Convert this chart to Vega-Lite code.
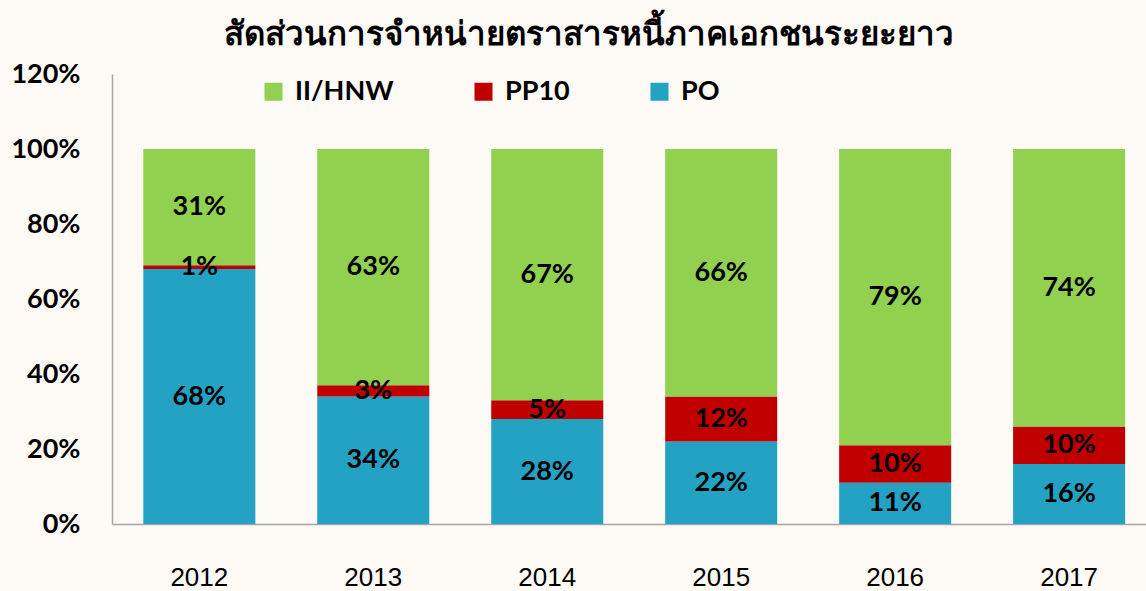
{
  "$schema": "https://vega.github.io/schema/vega-lite/v6.json",
  "autosize": "none",
  "width": 1034,
  "height": 450,
  "padding": {"left": 112, "top": 74, "right": 0, "bottom": 67},
  "background": "#fdf9f5",
  "title": {
    "text": "สัดส่วนการจำหน่ายตราสารหนี้ภาคเอกชนระยะยาว",
    "font": "Noto Sans",
    "fontSize": 33,
    "fontWeight": 600,
    "color": "#000000",
    "anchor": "middle",
    "dx": -40,
    "offset": 8
  },
  "data": {
    "values": [
      {"year": "2012", "type": "PO", "ord": 1, "value": 0.68},
      {"year": "2012", "type": "PP10", "ord": 2, "value": 0.01},
      {"year": "2012", "type": "II/HNW", "ord": 3, "value": 0.31},
      {"year": "2013", "type": "PO", "ord": 1, "value": 0.34},
      {"year": "2013", "type": "PP10", "ord": 2, "value": 0.03},
      {"year": "2013", "type": "II/HNW", "ord": 3, "value": 0.63},
      {"year": "2014", "type": "PO", "ord": 1, "value": 0.28},
      {"year": "2014", "type": "PP10", "ord": 2, "value": 0.05},
      {"year": "2014", "type": "II/HNW", "ord": 3, "value": 0.67},
      {"year": "2015", "type": "PO", "ord": 1, "value": 0.22},
      {"year": "2015", "type": "PP10", "ord": 2, "value": 0.12},
      {"year": "2015", "type": "II/HNW", "ord": 3, "value": 0.66},
      {"year": "2016", "type": "PO", "ord": 1, "value": 0.11},
      {"year": "2016", "type": "PP10", "ord": 2, "value": 0.10},
      {"year": "2016", "type": "II/HNW", "ord": 3, "value": 0.79},
      {"year": "2017", "type": "PO", "ord": 1, "value": 0.16},
      {"year": "2017", "type": "PP10", "ord": 2, "value": 0.10},
      {"year": "2017", "type": "II/HNW", "ord": 3, "value": 0.74}
    ]
  },
  "transform": [
    {"stack": "value", "groupby": ["year"], "sort": [{"field": "ord", "order": "ascending"}], "as": ["y0", "y1"]},
    {"calculate": "(datum.y0 + datum.y1) / 2", "as": "ymid"}
  ],
  "encoding": {
    "x": {
      "field": "year",
      "type": "nominal",
      "scale": {"paddingInner": 0.356, "paddingOuter": 0.15, "align": 0.6},
      "axis": {
        "title": null,
        "labelAngle": 0,
        "labelFont": "Liberation Sans",
        "labelFontSize": 26,
        "labelColor": "#000000",
        "labelPadding": 40,
        "ticks": false,
        "domainColor": "#a6a6a6",
        "domainWidth": 1.5
      }
    }
  },
  "layer": [
    {
      "mark": {"type": "bar"},
      "encoding": {
        "y": {
          "field": "y0",
          "type": "quantitative",
          "scale": {"domain": [0, 1.2], "nice": false},
          "axis": {
            "title": null,
            "format": ".0%",
            "values": [0, 0.2, 0.4, 0.6, 0.8, 1.0, 1.2],
            "grid": false,
            "ticks": false,
            "labelFont": "Lato",
            "labelFontSize": 27,
            "labelFontWeight": "bold",
            "labelColor": "#000000",
            "labelPadding": 32,
            "domainColor": "#a6a6a6",
            "domainWidth": 1.5
          }
        },
        "y2": {"field": "y1"},
        "color": {
          "field": "type",
          "type": "nominal",
          "scale": {"domain": ["II/HNW", "PP10", "PO"], "range": ["#92D050", "#C00000", "#23A2C3"]},
          "legend": {
            "title": null,
            "orient": "none",
            "legendX": 148,
            "legendY": 4,
            "direction": "horizontal",
            "symbolType": "square",
            "symbolSize": 324,
            "symbolStrokeWidth": 0,
            "labelFont": "Lato",
            "labelFontSize": 27,
            "labelFontWeight": "bold",
            "labelColor": "#000000",
            "labelOffset": 8,
            "columnPadding": 76
          }
        }
      }
    },
    {
      "mark": {"type": "text", "font": "Lato", "fontSize": 27, "fontWeight": "bold", "color": "#000000", "baseline": "middle"},
      "encoding": {
        "y": {"field": "ymid", "type": "quantitative"},
        "text": {"field": "value", "type": "quantitative", "format": ".0%"}
      }
    }
  ],
  "config": {"view": {"stroke": null}}
}
